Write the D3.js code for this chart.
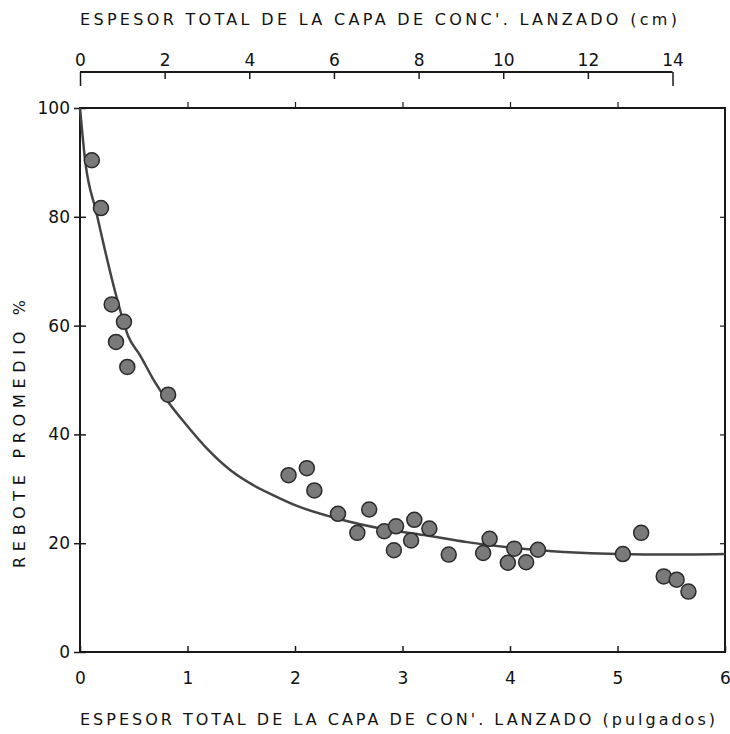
<!DOCTYPE html>
<html><head><meta charset="utf-8">
<script src="https://cdn.jsdelivr.net/npm/d3@7"></script>
<style>body{margin:0;background:#fff}svg{display:block}text{font-family:"DejaVu Sans",sans-serif;fill:#111}</style>
</head><body>
<script>
// Data (inches, % rebound)
const pointX = [0.11,0.195,0.295,0.409,0.335,0.44,0.82,1.94,2.11,2.18,2.40,2.58,2.69,2.83,2.94,2.92,3.11,3.08,3.25,3.43,3.75,3.81,4.04,3.98,4.15,4.26,5.05,5.22,5.43,5.55,5.66];
const pointY = [90.4,81.6,63.9,60.7,57.0,52.4,47.3,32.5,33.8,29.7,25.4,21.9,26.2,22.2,23.1,18.7,24.3,20.5,22.7,17.9,18.2,20.8,19.0,16.4,16.5,18.8,18.0,21.9,13.9,13.3,11.1];
const curveX = [0,0.05,0.15,0.33,0.45,0.56,0.7,0.8,1.0,1.2,1.4,1.6,1.8,2.0,2.4,2.8,3.2,3.6,4.0,4.5,5.0,5.5,6.0];
const curveY = [100,90,81,66,58,54.5,49.5,46.5,41.5,37,33.4,30.8,28.8,27,24.5,22.7,21.5,20.2,19.2,18.4,18.0,17.9,18.0];
const inchTicks = [0,1,2,3,4,5,6];
const cmTicks = [0,2,4,6,8,10,12,14];
const pctTicks = [0,20,40,60,80,100];
const topTitle = "ESPESOR TOTAL DE LA CAPA DE CONC'. LANZADO (cm)";
const bottomTitle = "ESPESOR TOTAL DE LA CAPA DE CON'. LANZADO  (pulgados)";
const yTitle = "REBOTE  PROMEDIO  %";

const W=730,H=734;
const L=80,R=725,T=108,B=652;
const svg=d3.select("body").append("svg").attr("width",W).attr("height",H);
const x=d3.scaleLinear().domain([0,6]).range([L,R]);
const xcm=d3.scaleLinear().domain([0,6*2.54]).range([L,R]);
const y=d3.scaleLinear().domain([0,100]).range([B,T]);
const ink="#1a1a1a";

// frame
svg.append("rect").attr("x",L).attr("y",T).attr("width",R-L).attr("height",B-T)
  .attr("fill","none").attr("stroke",ink).attr("stroke-width",2);

// bottom axis
const gb=svg.append("g").attr("transform",`translate(0,${B})`)
  .call(d3.axisBottom(x).tickValues(inchTicks).tickFormat(d3.format("d")).tickSizeInner(-6).tickSizeOuter(0).tickPadding(20));
gb.select(".domain").remove();
gb.selectAll("line").attr("stroke",ink).attr("stroke-width",1.5);
gb.selectAll("text").attr("font-size",17);

// left axis
const gl=svg.append("g").attr("transform",`translate(${L},0)`)
  .call(d3.axisLeft(y).tickValues(pctTicks).tickSizeInner(-6).tickSizeOuter(0).tickPadding(10));
gl.select(".domain").remove();
gl.selectAll("line").attr("stroke",ink).attr("stroke-width",1.5).attr("x1",-6).attr("x2",6);
gl.selectAll("text").attr("font-size",17);

// right axis ticks
const gr=svg.append("g").attr("transform",`translate(${R},0)`)
  .call(d3.axisRight(y).tickValues(pctTicks.slice(1,5)).tickSizeInner(-5).tickSizeOuter(0).tickFormat(""));
gr.select(".domain").remove();
gr.selectAll("line").attr("stroke",ink).attr("stroke-width",1.2);

// top inch ticks
const gt=svg.append("g").attr("transform",`translate(0,${T})`)
  .call(d3.axisTop(x).tickValues(inchTicks.slice(1,6)).tickSizeInner(6).tickSizeOuter(0).tickFormat(""));
gt.select(".domain").remove();
gt.selectAll("line").attr("stroke",ink).attr("stroke-width",1.2);

// cm axis
const cmY=72;
const gc=svg.append("g").attr("transform",`translate(0,${cmY})`)
  .call(d3.axisTop(xcm).tickValues(cmTicks).tickSizeInner(-7).tickSizeOuter(0).tickPadding(6));
gc.select(".domain").attr("d",`M${xcm(0)},0H${xcm(14)}`).attr("stroke",ink).attr("stroke-width",2);
gc.selectAll("line").attr("stroke",ink).attr("stroke-width",1.5);
gc.selectAll(".tick").filter(d=>d===0||d===14).select("line").attr("y2",14);
gc.selectAll("text").attr("font-size",17);

// titles
svg.append("text").attr("x",80).attr("y",25).attr("font-size",16)
  .attr("textLength",597).attr("lengthAdjust","spacing").text(topTitle);
svg.append("text").attr("x",80).attr("y",725).attr("font-size",16)
  .attr("textLength",635).attr("lengthAdjust","spacing").text(bottomTitle);
svg.append("text").attr("transform","translate(25,568) rotate(-90)").attr("font-size",16)
  .attr("textLength",268).attr("lengthAdjust","spacing").text(yTitle);

// curve
const line=d3.line().x(d=>x(d[0])).y(d=>y(d[1])).curve(d3.curveMonotoneX);
svg.append("path").datum(d3.zip(curveX,curveY)).attr("d",line)
  .attr("fill","none").attr("stroke","#444").attr("stroke-width",2.5);

// points
svg.append("g").selectAll("circle").data(d3.zip(pointX,pointY)).join("circle")
  .attr("cx",d=>x(d[0])).attr("cy",d=>y(d[1])).attr("r",7.5)
  .attr("fill","#7a7a7a").attr("stroke","#2a2a2a").attr("stroke-width",1.5);
</script>
</body></html>
